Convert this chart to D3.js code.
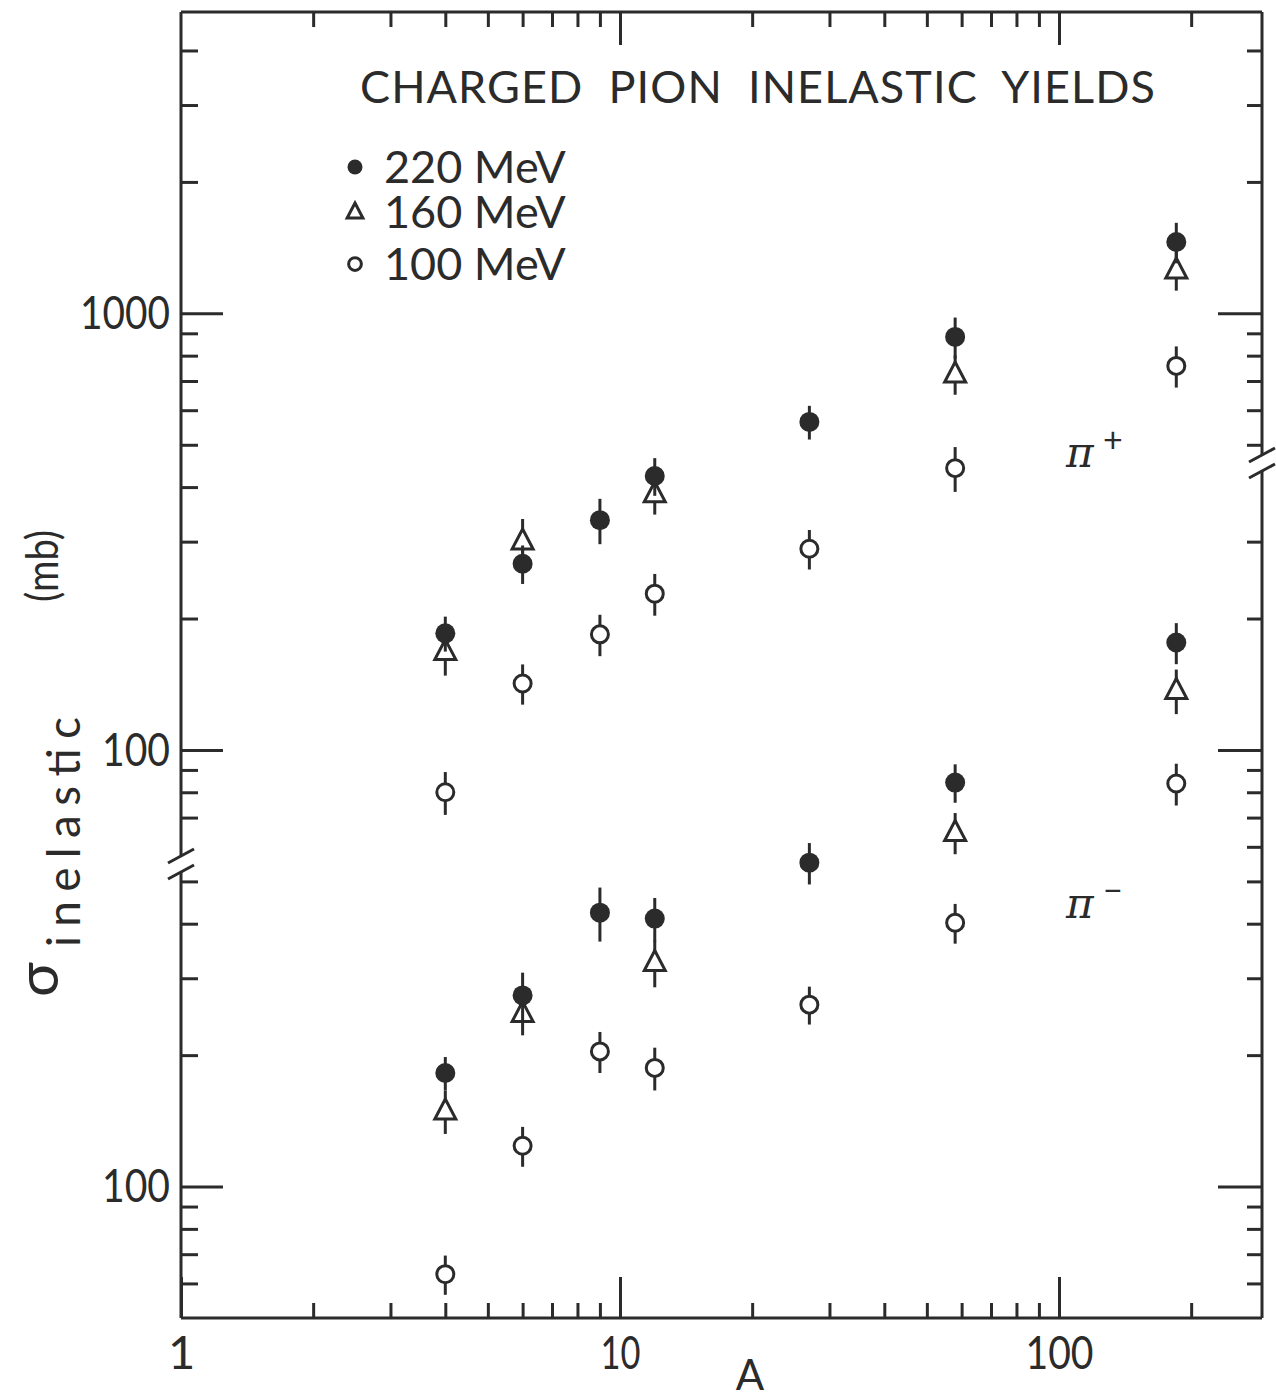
<!DOCTYPE html>
<html>
<head>
<meta charset="utf-8">
<script src="https://cdn.jsdelivr.net/npm/d3@7"></script>
<style>
  body { margin: 0; background: #fff; }
  svg text { font-family: Lato, "Open Sans", sans-serif; fill: #2b2b2b; }
</style>
</head>
<body>
<div id="chart"></div>
<script>
// mass numbers of the targets
const massNumbers = [4, 6, 9, 12, 27, 58, 185];

// pi+ inelastic cross sections (mb); null = not measured
const piPlus220 = [185, 267, 336, 424, 564, 883, 1457];
const piPlus160 = [168, 301, null, 386, null, 726, 1257];
const piPlus100 = [80, 142, 184, 228, 289, 442, 758];
const piPlus220Err = [17, 27, 40, 42, 50, 95, 155];
const piPlus160Err = [20, 37, null, 40, null, 75, 130];
const piPlus100Err = [9, 15, 20, 25, 30, 52, 82];

// pi- inelastic cross sections (mb)
const piMinus220 = [182, 274, 424, 411, 552, 842, 1762];
const piMinus160 = [149, 249, null, 326, null, 647, 1368];
const piMinus100 = [63, 124, 204, 187, 261, 402, 838];
const piMinus220Err = [16, 35, 60, 47, 60, 85, 190];
const piMinus160Err = [17, 27, null, 40, null, 70, 160];
const piMinus100Err = [6.5, 13, 22, 21, 26, 42, 92];

const legendLabels = ["220 MeV", "160 MeV", "100 MeV"];
const markerKinds = ["filled", "triangle", "open"];

// tick values for the two broken panels
const leftUpperMinor = [4000, 3000, 2000, 900, 800, 700, 600, 500, 400, 300, 200, 90, 80, 70];
const leftUpperMajor = [1000, 100];
const leftLowerMinor = [500, 400, 300, 200, 90, 80, 70, 60];
const leftLowerMajor = [100];
const rightUpperMinor = [4000, 3000, 2000, 900, 800, 700, 600, 500];
const rightUpperMajor = [1000];
const rightLowerMinor = [3000, 2000, 900, 800, 700, 600, 500, 400, 300, 200, 90, 80, 70, 60];
const rightLowerMajor = [1000, 100];
const xMinor = [2, 3, 4, 5, 6, 7, 8, 9, 20, 30, 40, 50, 60, 70, 80, 90, 200];
const xMajor = [1, 10, 100];

const W = 1276, H = 1399;
const plotL = 181, plotR = 1262, plotT = 12, plotB = 1318;
const ink = "#2b2b2b";

const svg = d3.select("#chart").append("svg")
    .attr("width", W)
    .attr("height", H)
    .style("background", "white");

const x = d3.scaleLog().domain([1, 290]).range([plotL, plotR]);
// pi- is drawn one decade below pi+ on the same sheet
const yPlus = d3.scaleLog().domain([5, 4900]).range([plotB, plotT]);
const yMinus = d3.scaleLog().domain([50, 49000]).range([plotB, plotT]);

// the lettered "1" is just a bar, so numbers run narrower than the font's
const labelWidths = {"10": 40, "100": 68, "1000": 90};

function styleAxis(g) {
    g.select(".domain").remove();
    g.selectAll(".tick line").attr("stroke", ink).attr("stroke-width", 3);
    g.selectAll(".tick text")
        .attr("fill", ink)
        .style("font-family", "Lato, sans-serif")
        .style("font-size", "47px")
        .each(function(d) {
            const w = labelWidths[String(d)];
            if (w) d3.select(this).attr("textLength", w).attr("lengthAdjust", "spacingAndGlyphs");
        });
}

function axisGroup(axis, tx, ty) {
    return svg.append("g")
        .attr("transform", `translate(${tx},${ty})`)
        .call(axis)
        .call(styleAxis);
}

// left side
axisGroup(d3.axisLeft(yPlus).tickValues(leftUpperMinor).tickSize(-17).tickFormat(""), plotL, 0);
axisGroup(d3.axisLeft(yPlus).tickValues(leftUpperMajor).tickSize(-42).tickPadding(11).tickFormat(d3.format("d")), plotL, 0);
axisGroup(d3.axisLeft(yMinus).tickValues(leftLowerMinor).tickSize(-17).tickFormat(""), plotL, 0);
axisGroup(d3.axisLeft(yMinus).tickValues(leftLowerMajor).tickSize(-42).tickPadding(11).tickFormat(d3.format("d")), plotL, 0);

// right side
axisGroup(d3.axisRight(yPlus).tickValues(rightUpperMinor).tickSize(-15).tickFormat(""), plotR, 0);
axisGroup(d3.axisRight(yPlus).tickValues(rightUpperMajor).tickSize(-44).tickFormat(""), plotR, 0);
axisGroup(d3.axisRight(yMinus).tickValues(rightLowerMinor).tickSize(-15).tickFormat(""), plotR, 0);
axisGroup(d3.axisRight(yMinus).tickValues(rightLowerMajor).tickSize(-44).tickFormat(""), plotR, 0);

// top and bottom
axisGroup(d3.axisTop(x).tickValues(xMinor).tickSize(-15).tickFormat(""), 0, plotT);
axisGroup(d3.axisTop(x).tickValues(xMajor.slice(1)).tickSize(-33).tickFormat(""), 0, plotT);
axisGroup(d3.axisBottom(x).tickValues(xMinor).tickSize(-15).tickFormat(""), 0, plotB);
axisGroup(d3.axisBottom(x).tickValues(xMajor).tickSize(-41).tickPadding(18).tickFormat(d3.format("d")), 0, plotB);

// frame with the axis breaks
const frame = svg.append("g").attr("stroke", ink).attr("stroke-width", 3).attr("fill", "none");
const leftBreak = 864, rightBreak = 463;
frame.append("line").attr("x1", plotL).attr("x2", plotR).attr("y1", plotT).attr("y2", plotT);
frame.append("line").attr("x1", plotL).attr("x2", plotR).attr("y1", plotB).attr("y2", plotB);
frame.append("line").attr("x1", plotL).attr("x2", plotL).attr("y1", plotT).attr("y2", leftBreak - 8);
frame.append("line").attr("x1", plotL).attr("x2", plotL).attr("y1", leftBreak + 8).attr("y2", plotB);
frame.append("line").attr("x1", plotR).attr("x2", plotR).attr("y1", plotT).attr("y2", rightBreak - 8);
frame.append("line").attr("x1", plotR).attr("x2", plotR).attr("y1", rightBreak + 8).attr("y2", plotB);
for (const [cx, cy] of [[plotL, leftBreak], [plotR, rightBreak]]) {
    for (const off of [-8, 8]) {
        frame.append("line")
            .attr("x1", cx - 13).attr("y1", cy + off + 7)
            .attr("x2", cx + 13).attr("y2", cy + off - 7);
    }
}

// data points
const trianglePath = "M0,-12L10.5,8L-10.5,8Z";

function drawSeries(values, errs, yScale, kind) {
    const pts = massNumbers.map((a, i) => ({a, v: values[i], e: errs[i]}))
        .filter(d => d.v !== null);
    const g = svg.append("g");
    g.selectAll("line.err").data(pts).join("line")
        .attr("class", "err")
        .attr("x1", d => x(d.a)).attr("x2", d => x(d.a))
        .attr("y1", d => yScale(d.v + d.e))
        .attr("y2", d => yScale(d.v - d.e))
        .attr("stroke", ink)
        .attr("stroke-width", 3);
    drawMarkers(g, pts.map(d => [x(d.a), yScale(d.v)]), kind, 1);
}

function drawMarkers(g, xy, kind, s) {
    if (kind === "triangle") {
        g.selectAll("path.mk").data(xy).join("path")
            .attr("class", "mk")
            .attr("d", trianglePath)
            .attr("transform", d => `translate(${d[0]},${d[1]}) scale(${s})`)
            .attr("fill", "white")
            .attr("stroke", ink)
            .attr("stroke-width", 3 / s);
    } else {
        g.selectAll("circle.mk").data(xy).join("circle")
            .attr("class", "mk")
            .attr("cx", d => d[0]).attr("cy", d => d[1])
            .attr("r", (kind === "filled" ? 10 : 8.5) * s)
            .attr("fill", kind === "filled" ? ink : "white")
            .attr("stroke", ink)
            .attr("stroke-width", kind === "filled" ? 0 : 3);
    }
}

drawSeries(piPlus100, piPlus100Err, yPlus, "open");
drawSeries(piPlus160, piPlus160Err, yPlus, "triangle");
drawSeries(piPlus220, piPlus220Err, yPlus, "filled");
drawSeries(piMinus100, piMinus100Err, yMinus, "open");
drawSeries(piMinus160, piMinus160Err, yMinus, "triangle");
drawSeries(piMinus220, piMinus220Err, yMinus, "filled");

// title
svg.append("text")
    .attr("x", 360).attr("y", 103)
    .style("font-size", "45px")
    .style("white-space", "pre")
    .attr("textLength", 795)
    .attr("lengthAdjust", "spacing")
    .text("CHARGED  PION  INELASTIC  YIELDS");

// legend: symbols, then one text block with a line per energy
const legendY = [167, 212, 264];
const legend = svg.append("g");
markerKinds.forEach((kind, i) => {
    drawMarkers(legend.append("g"), [[355, legendY[i]]], kind, 0.75);
});
legend.append("text")
    .style("font-size", "45px")
    .selectAll("tspan").data(legendLabels).join("tspan")
    .attr("x", 384)
    .attr("y", (d, i) => legendY[i] + 16)
    .text(d => d);

// pi+ / pi- tags
function pionTag(y, sign) {
    svg.append("text")
        .attr("x", 1066).attr("y", y)
        .style("font-family", "'DejaVu Serif', serif")
        .style("font-style", "italic")
        .style("font-size", "42px")
        .text("π");
    svg.append("text")
        .attr("x", 1103).attr("y", y - 15)
        .style("font-size", "34px")
        .text(sign);
}
pionTag(467, "+");
pionTag(918, "−");

// axis titles
svg.append("text")
    .attr("x", 750).attr("y", 1390)
    .attr("text-anchor", "middle")
    .style("font-size", "42px")
    .text("A");

const yTitle = svg.append("g").attr("transform", "translate(58,997) rotate(-90)");
yTitle.append("text").attr("x", 0).attr("y", 0)
    .style("font-size", "58px")
    .text("σ");
yTitle.append("text").attr("x", 50).attr("y", 22)
    .style("font-size", "46px")
    .attr("textLength", 230)
    .attr("lengthAdjust", "spacing")
    .text("inelastic");
yTitle.append("text").attr("x", 395).attr("y", 0)
    .style("font-size", "44px")
    .attr("textLength", 72)
    .attr("lengthAdjust", "spacingAndGlyphs")
    .text("(mb)");
</script>
</body>
</html>
